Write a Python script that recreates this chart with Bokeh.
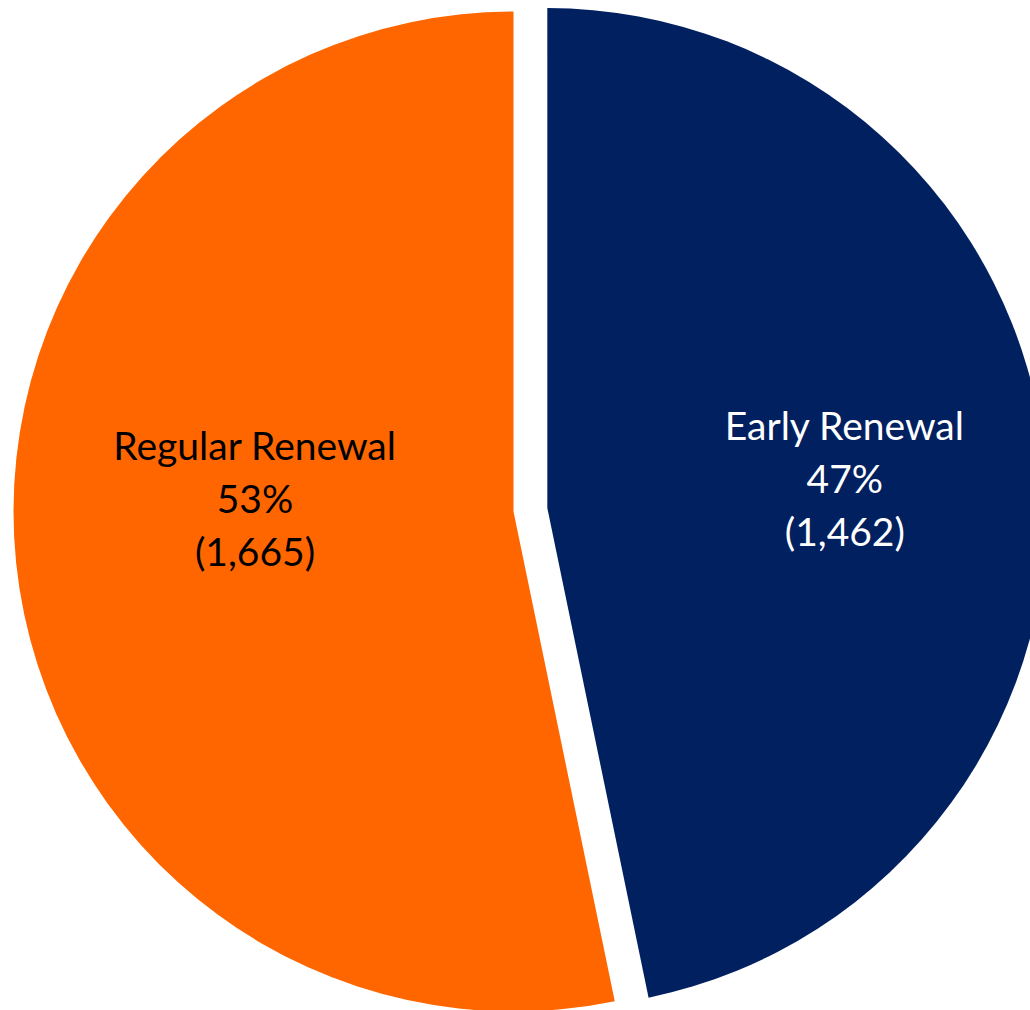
import math
from bokeh.plotting import figure
from bokeh.models import Range1d, ColumnDataSource
from bokeh.core.properties import value
from bokeh.embed import file_html
from bokeh.resources import INLINE

# ---- data ----
categories = ["Early Renewal", "Regular Renewal"]
counts = [1462, 1665]
percent_labels = ["47%", "53%"]
count_labels = ["(1,462)", "(1,665)"]
colors = ["#002060", "#FF6600"]
text_colors = ["white", "black"]

# ---- layout ----
W, H = 1030, 1010
cx, cy = 513, H - 511     # base pie centre (data coords = page px)
R = 500
explode = [34, 0]
label_offsets = [(297.5, 30), (-258.5, 14)]   # middle-line baseline relative to wedge centre
FONT = "Lato"
FSIZE = "39px"
LINE = 53

total = sum(counts)
p = figure(width=W, height=H, x_range=Range1d(0, W), y_range=Range1d(0, H),
           output_backend="svg", toolbar_location=None, min_border=0)
p.axis.visible = False
p.grid.visible = False
p.outline_line_color = None
p.background_fill_color = "white"
p.border_fill_color = "white"

start = math.pi / 2
wx, wy, ws, we, lx, ly = [], [], [], [], [], []
for i, c in enumerate(counts):
    sweep = 2 * math.pi * c / total
    s, e = start - sweep, start   # anticlockwise from s to e
    mid = (s + e) / 2
    x0 = cx + explode[i] * math.cos(mid)
    y0 = cy + explode[i] * math.sin(mid)
    wx.append(x0); wy.append(y0); ws.append(s); we.append(e)
    lx.append(x0 + label_offsets[i][0])
    ly.append(y0 + label_offsets[i][1])
    start = s

src = ColumnDataSource(dict(x=wx, y=wy, s=ws, e=we, color=colors))
p.wedge(x="x", y="y", radius=R, start_angle="s", end_angle="e", direction="anticlock",
        fill_color="color", line_color=None, source=src)

for k, texts in enumerate([categories, percent_labels, count_labels]):
    tsrc = ColumnDataSource(dict(x=lx, y=[v - (k - 1) * LINE for v in ly], t=texts, c=text_colors))
    p.text(x="x", y="y", text="t", text_color="c", source=tsrc,
           text_font=value(FONT), text_font_size=FSIZE,
           text_align="center", text_baseline="alphabetic")

open("out.html", "w").write(file_html(p, INLINE))
